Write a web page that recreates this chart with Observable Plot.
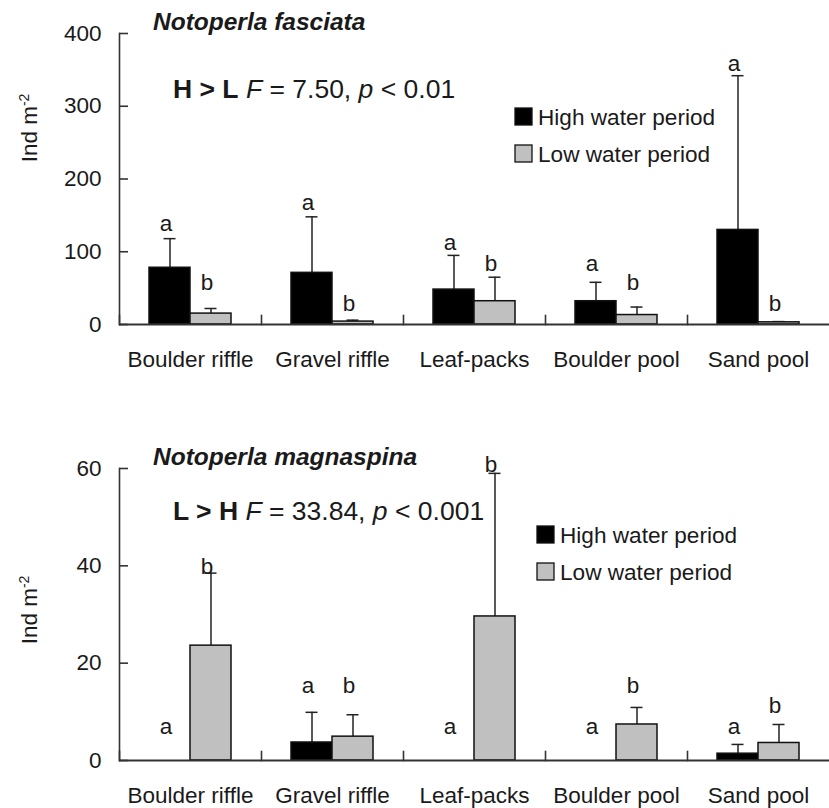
<!DOCTYPE html>
<html><head><meta charset="utf-8">
<script src="https://cdn.jsdelivr.net/npm/d3@7"></script>
<script src="https://cdn.jsdelivr.net/npm/@observablehq/plot@0.6"></script>
<style>
body{margin:0;background:#fff;}
#chart{width:829px;}
svg{display:block;}
text{white-space:pre;}
</style></head><body><div id="chart"></div>
<script>
const categories = ["Boulder riffle", "Gravel riffle", "Leaf-packs", "Boulder pool", "Sand pool"];
const periods = ["High water period", "Low water period"];

// Notoperla fasciata (Ind m-2): mean and top of error bar
const fascHigh = [78, 71, 48, 32, 130];
const fascHighErr = [118, 148, 95, 58, 342];
const fascLow = [15, 4, 32, 13, 3];
const fascLowErr = [22, 6, 65, 24, 4];
const fascHighLetter = ["a", "a", "a", "a", "a"];
const fascLowLetter = ["b", "b", "b", "b", "b"];
const fascHighLetterAt = [129, 157, 102, 74, 349];
const fascLowLetterAt = [47, 19, 74, 47, 19];
const fascTicks = [0, 100, 200, 300, 400];

// Notoperla magnaspina
const magnHigh = [0, 3.7, 0, 0, 1.4];
const magnHighErr = [0, 9.9, 0, 0, 3.3];
const magnLow = [23.6, 4.9, 29.6, 7.4, 3.6];
const magnLowErr = [38.5, 9.4, 59.0, 10.9, 7.4];
const magnHighLetter = ["a", "a", "a", "a", "a"];
const magnLowLetter = ["b", "b", "b", "b", "b"];
const magnHighLetterAt = [5.5, 13.8, 5.5, 5.5, 5.5];
const magnLowLetterAt = [38.4, 13.8, 59.2, 13.8, 9.7];
const magnTicks = [0, 20, 40, 60];

const titles = ["Notoperla fasciata", "Notoperla magnaspina"];
const stats = [
  [{t: "H > L", b: 1}, {t: " "}, {t: "F", i: 1}, {t: " = 7.50, "}, {t: "p", i: 1}, {t: " < 0.01"}],
  [{t: "L > H", b: 1}, {t: " "}, {t: "F", i: 1}, {t: " = 33.84, "}, {t: "p", i: 1}, {t: " < 0.001"}]
];

function buildRows(high, highErr, low, lowErr, hl, ll, hAt, lAt) {
  const rows = [];
  categories.forEach((cat, i) => {
    rows.push({cat, period: periods[0], value: high[i], err: highErr[i], letter: hl[i], at: hAt[i]});
    rows.push({cat, period: periods[1], value: low[i], err: lowErr[i], letter: ll[i], at: lAt[i]});
  });
  return rows;
}

const FONT = "'Liberation Sans', Arial, Helvetica, sans-serif";
const INK = "#1a1a1a";

function panel(rows, yDomain, yTicks, height, marginTop, marginBottom) {
  const plotH = height - marginTop - marginBottom;
  const errRows = rows.filter(d => d.err > d.value);
  return Plot.plot({
    width: 829, height, marginLeft: 118, marginRight: 0, marginTop, marginBottom,
    style: {fontFamily: FONT, fontSize: "22.5px", color: INK, background: "white", overflow: "visible"},
    fx: {domain: categories, padding: 0, label: null},
    x: {domain: periods, paddingInner: 0, paddingOuter: 0.713, axis: null},
    y: {domain: yDomain, label: null},
    color: {domain: periods, range: ["#000000", "#c0c0c0"]},
    marks: [
      Plot.frame({anchor: "left", facetAnchor: "left", stroke: "#333", strokeWidth: 1.6}),
      Plot.frame({anchor: "left", insetTop: plotH - 9, stroke: "#333", strokeWidth: 1.6}),
      Plot.axisY({ticks: yTicks, tickSize: -9, tickPadding: 27, fontSize: 22.5, stroke: "#333", strokeWidth: 1.6, label: null}),
      Plot.axisFx({anchor: "bottom", tickSize: 0, tickPadding: 27, fontSize: 22.5, label: null}),
      Plot.ruleX(errRows, {fx: "cat", x: "period", y1: "value", y2: "err", stroke: "#222", strokeWidth: 1.5}),
      Plot.tickY(errRows, {fx: "cat", x: "period", y: "err", insetLeft: 14.5, insetRight: 14.5, stroke: "#222", strokeWidth: 1.5}),
      Plot.barY(rows, {fx: "cat", x: "period", y: "value", fill: "period", stroke: "#111", strokeWidth: 1.5}),
      Plot.ruleY([0], {stroke: "#333", strokeWidth: 1.8}),
      Plot.text(rows, {fx: "cat", x: "period", y: "at", text: "letter", lineAnchor: "bottom", dx: -4, fontSize: 22.5, fill: INK})
    ]
  });
}

function decorate(svg, k, o) {
  const s = d3.select(svg);
  s.append("text").attr("x", 153).attr("y", o.titleY).attr("text-anchor", "start")
    .attr("font-family", FONT).attr("font-size", 24.5).attr("font-weight", "bold").attr("font-style", "italic")
    .attr("fill", INK).text(titles[k]);
  const a = s.append("text").attr("x", 173).attr("y", o.annY).attr("text-anchor", "start")
    .attr("font-family", FONT).attr("font-size", 26.5).attr("fill", INK);
  stats[k].forEach(p => a.append("tspan")
    .attr("font-weight", p.b ? "bold" : null).attr("font-style", p.i ? "italic" : null).text(p.t));
  const fills = ["#000000", "#c0c0c0"];
  periods.forEach((p, j) => {
    s.append("rect").attr("x", o.legX).attr("y", o.legY[j] - 17).attr("width", 17).attr("height", 17)
      .attr("fill", fills[j]).attr("stroke", "#111").attr("stroke-width", 1.3);
    s.append("text").attr("x", o.legX + 23).attr("y", o.legY[j]).attr("text-anchor", "start")
      .attr("font-family", FONT).attr("font-size", 22.6).attr("fill", INK).text(p);
  });
  const yl = s.append("text").attr("transform", `translate(37,${o.ylabY}) rotate(-90)`)
    .attr("text-anchor", "middle").attr("font-family", FONT).attr("font-size", 22.5).attr("fill", INK);
  yl.append("tspan").text("Ind m");
  yl.append("tspan").attr("dy", "-0.55em").attr("font-size", 14).text("-2");
}

const root = document.getElementById("chart");
const top1 = panel(buildRows(fascHigh, fascHighErr, fascLow, fascLowErr, fascHighLetter, fascLowLetter, fascHighLetterAt, fascLowLetterAt), [0, 400], fascTicks, 400, 33, 76);
decorate(top1, 0, {titleY: 30, annY: 98, legX: 515, legY: [125, 162], ylabY: 128});
root.appendChild(top1);
const bot = panel(buildRows(magnHigh, magnHighErr, magnLow, magnLowErr, magnHighLetter, magnLowLetter, magnHighLetterAt, magnLowLetterAt), [0, 60], magnTicks, 408, 68, 48);
decorate(bot, 1, {titleY: 65, annY: 120, legX: 537, legY: [143, 180], ylabY: 210});
root.appendChild(bot);
</script></body></html>
